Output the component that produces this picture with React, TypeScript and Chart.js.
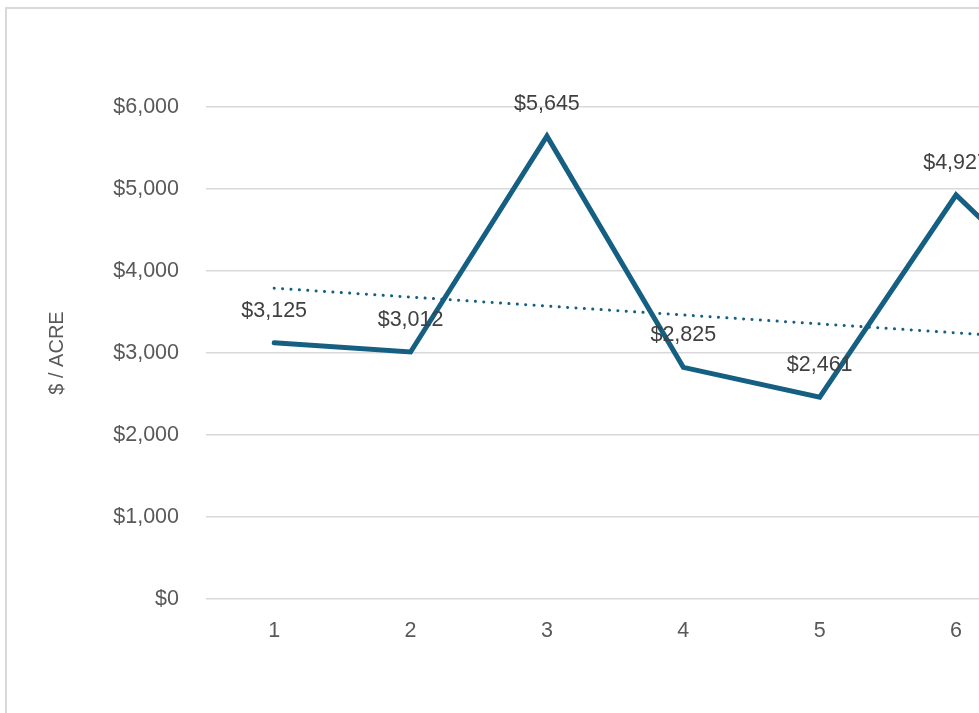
import React, { useEffect, useRef } from "react";
import { Chart, registerables } from "chart.js";

Chart.register(...registerables);

const categories = ["1", "2", "3", "4", "5", "6", "7", "8"];
const pricePerAcre = [3125, 3012, 5645, 2825, 2461, 4927, 3330, 1950];
const yTicks = [0, 1000, 2000, 3000, 4000, 5000, 6000];

const LINE_COLOR = "#156082";
const FONT = "'Liberation Sans', Arial, sans-serif";
const NUM_SIZE = 21.5;

function linearTrend(values: number[]): number[] {
  const n = values.length;
  const xs = values.map((_, i) => i + 1);
  const mx = xs.reduce((a, b) => a + b, 0) / n;
  const my = values.reduce((a, b) => a + b, 0) / n;
  let sxy = 0;
  let sxx = 0;
  for (let i = 0; i < n; i++) {
    sxy += (xs[i] - mx) * (values[i] - my);
    sxx += (xs[i] - mx) * (xs[i] - mx);
  }
  const slope = sxy / sxx;
  return xs.map((x) => my + slope * (x - mx));
}

const fmt = (v: number) => "$" + Math.round(v).toLocaleString("en-US");

const labelPlugin = {
  id: "pointLabels",
  afterDatasetsDraw(chart: any) {
    const meta = chart.getDatasetMeta(0);
    const ctx = chart.ctx;
    ctx.save();
    ctx.font = `${NUM_SIZE}px ${FONT}`;
    ctx.fillStyle = "#404040";
    ctx.textAlign = "center";
    ctx.textBaseline = "middle";
    meta.data.forEach((pt: any, i: number) => {
      ctx.fillText(fmt(pricePerAcre[i]), pt.x, pt.y - 32);
    });
    ctx.restore();
  },
};

export default function App() {
  const ref = useRef<HTMLCanvasElement | null>(null);

  useEffect(() => {
    if (!ref.current) return;
    const chart = new Chart(ref.current, {
      type: "line",
      data: {
        labels: categories,
        datasets: [
          {
            data: pricePerAcre,
            borderColor: LINE_COLOR,
            borderWidth: 5,
            pointRadius: 0,
            tension: 0,
            borderJoinStyle: "miter",
            borderCapStyle: "round",
            fill: false,
          },
          {
            data: linearTrend(pricePerAcre),
            borderColor: LINE_COLOR,
            borderWidth: 3,
            borderDash: [0.1, 8.3],
            borderCapStyle: "round",
            pointRadius: 0,
            tension: 0,
            fill: false,
          },
        ],
      },
      options: {
        responsive: false,
        animation: false,
        devicePixelRatio: 1,
        layout: { padding: { top: 98, right: 40, bottom: 0, left: 0 } },
        plugins: {
          legend: { display: false },
          tooltip: { enabled: false },
        },
        scales: {
          x: {
            offset: true,
            grid: { display: false, drawTicks: false },
            border: { display: false },
            ticks: {
              color: "#595959",
              font: { family: FONT, size: NUM_SIZE },
              padding: 19,
              maxRotation: 0,
            },
            afterFit: (scale: any) => {
              scale.height = 150;
            },
          },
          y: {
            min: 0,
            max: 6000,
            afterBuildTicks: (scale: any) => {
              scale.ticks = yTicks.map((v) => ({ value: v }));
            },
            grid: { color: "#d9d9d9", lineWidth: 1.5, drawTicks: false },
            border: { display: false },
            ticks: {
              color: "#595959",
              font: { family: FONT, size: NUM_SIZE },
              padding: 27,
              callback: (v: any) => fmt(Number(v)),
            },
            title: {
              display: true,
              text: "$ / ACRE",
              color: "#595959",
              font: { family: FONT, size: 20 },
              padding: { top: 38, bottom: 0 },
            },
            afterFit: (scale: any) => {
              scale.width = 199;
            },
          },
        },
      },
      plugins: [labelPlugin],
    });
    return () => chart.destroy();
  }, []);

  return (
    <div
      style={{
        position: "fixed",
        inset: 0,
        overflow: "hidden",
        background: "#ffffff",
      }}
    >
      <div
        style={{
          position: "absolute",
          left: 5,
          top: 7,
          borderLeft: "2px solid #d9d9d9",
          borderTop: "2px solid #d9d9d9",
        }}
      >
        <canvas
          ref={ref}
          width={1330}
          height={740}
          style={{ display: "block", width: 1330, height: 740 }}
        />
      </div>
    </div>
  );
}
